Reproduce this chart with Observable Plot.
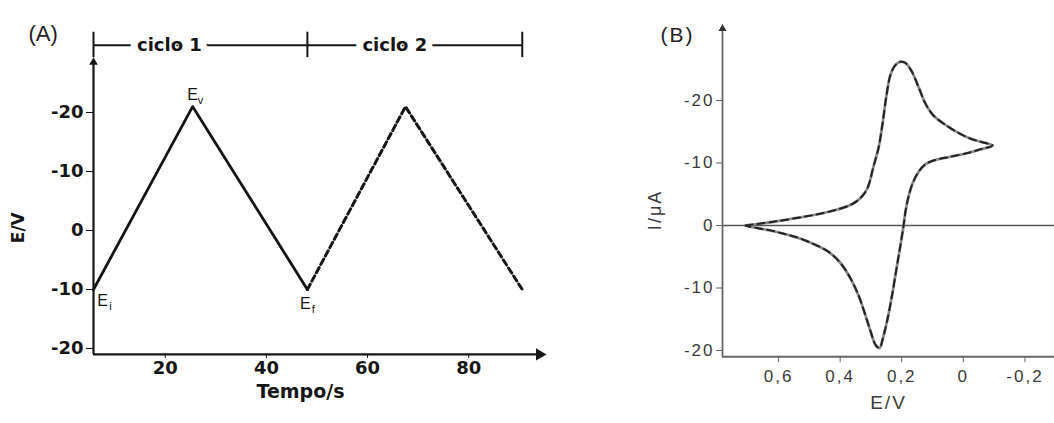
<!DOCTYPE html>
<html><head><meta charset="utf-8">
<script src="https://cdn.jsdelivr.net/npm/d3@7"></script>
<script src="https://cdn.jsdelivr.net/npm/@observablehq/plot@0.6"></script>
<style>
body{margin:0;background:#fff;}
#wrap{display:flex;width:1054px;height:423px;overflow:hidden;background:#fff;}
#wrap svg{display:block;flex-shrink:0;max-width:none;}
</style></head><body><div id="wrap"></div>
<script>
// ---------- Panel (A): triangular potential waveform ----------
const tempo = [5.8, 25.4, 48.1, 67.5, 90.6];          // s
const potencial = [-10, 21, -10, 21, -10];             // E (plotted value)
const cicloNomes = ["ciclo 1", "ciclo 2"];
const tempoTicks = [20, 40, 60, 80];
const eTicks = [20, 10, 0, -10, -20];
const eTickLabels = ["-20", "-10", "0", "-10", "-20"];
const pontosIdx = [0, 1, 2];
const subscritos = ["i", "v", "f"];

// ---------- Panel (B): cyclic voltammogram ----------
const cvE = [0.707,0.616,0.529,0.473,0.421,0.366,0.334,0.311,0.292,0.275,0.262,0.249,0.236,0.220,0.204,0.188,0.168,0.145,0.123,0.097,0.058,0.019,-0.023,-0.056,-0.095,
  -0.056,-0.014,0.042,0.090,0.123,0.145,0.165,0.178,0.188,0.194,0.204,0.217,0.233,0.249,0.262,0.272,0.285,0.302,0.321,0.341,0.366,0.399,0.438,0.480,0.529,0.577,0.626,0.691,0.707];
const cvI = [0,0.6,1.3,1.8,2.4,3.3,4.4,6.0,9.4,12.5,16.4,21.0,24.2,25.7,26.2,26.0,24.7,22.1,19.5,17.6,16.1,14.9,13.9,13.4,12.8,
  12.2,11.6,11.0,10.5,9.8,8.6,6.7,4.6,2.2,0,-3.1,-6.9,-11.6,-15.6,-18.2,-19.6,-19.1,-16.8,-13.9,-11.1,-8.5,-6.0,-4.2,-3.1,-2.1,-1.4,-0.8,-0.2,0];
const vTicks = [0.6, 0.4, 0.2, 0, -0.2];
const vTickLabels = ["0,6", "0,4", "0,2", "0", "-0,2"];
const iTicks = [20, 10, 0, -10, -20];
const iTickLabels = ["-20", "-10", "0", "-10", "-20"];

const wrap = document.getElementById("wrap");

// ----- Panel A -----
const ink = "#151515";
const tMin = tempo[0], tMax = 94.8, eMin = -21, eMax = 35, eArrow = 28.5;
const bracketE = 31.4, bracketE1 = 29.3, bracketE2 = 33.6;
const seg1 = [0,1,2].map(i => ({t: tempo[i], e: potencial[i]}));
const seg2 = [2,3,4].map(i => ({t: tempo[i], e: potencial[i]}));
const bounds = [tempo[0], tempo[2], tempo[4]];
const ciclos = [0,1].map(k => ({a: bounds[k], b: bounds[k+1], m: (bounds[k]+bounds[k+1])/2, nome: cicloNomes[k]}));

function labelE(k, dx, dy) {
  const i = pontosIdx[k];
  const d = [{t: tempo[i], e: potencial[i], s: subscritos[k]}];
  const common = {x: "t", y: "e", fontWeight: "normal", fontFamily: "'Liberation Sans', Arial, sans-serif", fill: ink};
  return [
    Plot.text(d, {...common, text: () => "E", dx, dy, fontSize: 16}),
    Plot.text(d, {...common, text: "s", dx: dx + 8, dy: dy + 6, fontSize: 11})
  ];
}

const A = Plot.plot({
  width: 560, height: 423,
  marginLeft: 93, marginRight: 17, marginTop: 23.5, marginBottom: 69.1,
  style: "font-family: 'DejaVu Sans', sans-serif; font-size: 18px; font-weight: bold; color: #151515; background: white; overflow: visible;",
  x: {domain: [tMin, tMax]},
  y: {domain: [eMin, eMax]},
  marks: [
    Plot.ruleX([tMin], {y1: eMin, y2: eArrow, stroke: ink, strokeWidth: 2.2}),
    Plot.ruleY([eMin], {x1: tMin, x2: tMax, stroke: ink, strokeWidth: 2.2}),
    Plot.dot([{t: tMin, e: eArrow}], {x: "t", y: "e", symbol: "triangle", r: 3.2, fill: ink, stroke: null}),
    Plot.dot([{t: tMax, e: eMin}], {x: "t", y: "e", symbol: "triangle", r: 4.5, rotate: 90, dx: -4, fill: ink, stroke: null}),
    Plot.axisX({ticks: tempoTicks, tickSize: 4, tickPadding: 3, label: null, tickFormat: d => String(d)}),
    Plot.axisY({ticks: eTicks, tickSize: 7, tickPadding: 3, label: null, tickFormat: d => eTickLabels[eTicks.indexOf(d)]}),
    Plot.line(seg1, {x: "t", y: "e", stroke: ink, strokeWidth: 2.8}),
    Plot.line(seg2, {x: "t", y: "e", stroke: ink, strokeWidth: 3, strokeDasharray: "6,3.5"}),
    // cycle bracket
    Plot.ruleY(ciclos, {y: () => bracketE, x1: "a", x2: "b", stroke: ink, strokeWidth: 2}),
    Plot.ruleX(bounds, {x: d => d, y1: bracketE1, y2: bracketE2, stroke: ink, strokeWidth: 2}),
    Plot.text([ciclos[0]], {x: "m", y: () => bracketE, text: "nome", dx: -31, fill: ink, stroke: "white", strokeWidth: 14, paintOrder: "stroke", fontSize: 18}),
    Plot.text([ciclos[1]], {x: "m", y: () => bracketE, text: "nome", dx: -20, fill: ink, stroke: "white", strokeWidth: 14, paintOrder: "stroke", fontSize: 18}),
    ...labelE(0, 9, 11),
    ...labelE(1, 0, -12),
    ...labelE(2, -2, 14),
    Plot.text(["Tempo/s"], {text: d => d, frameAnchor: "bottom", dx: -18, dy: 44, fontSize: 19, fill: ink}),
    Plot.text(["E/V"], {text: d => d, frameAnchor: "left", rotate: -90, dx: -75, dy: 54, fontSize: 17, fill: ink}),
    Plot.text(["(A)"], {text: d => d, frameAnchor: "top-left", textAnchor: "start", dx: -65, dy: 1, fontSize: 22, fontWeight: "normal", fontFamily: "'Liberation Sans', Arial, sans-serif", fill: "#222"})
  ]
});
wrap.appendChild(A);

// ----- Panel B -----
const grey = "#3a3a3a";
const vMin = -0.296, vMax = 0.782, iMin = -21, iMax = 32, iArrow = 31.5;
const cv = cvE.map((e, k) => ({e, i: cvI[k]}));

const B = Plot.plot({
  width: 494, height: 423,
  marginLeft: 162, marginRight: 0, marginTop: 25, marginBottom: 66.75,
  style: "font-family: 'Liberation Sans', Arial, sans-serif; font-size: 17px; letter-spacing: 2px; color: #3a3a3a; background: white; overflow: visible;",
  x: {domain: [vMax, vMin]},
  y: {domain: [iMin, iMax]},
  marks: [
    Plot.ruleY([0], {stroke: "#555", strokeWidth: 1.4}),
    Plot.ruleX([vMax], {y1: iMin, y2: iArrow, stroke: "#666", strokeWidth: 1.8}),
    Plot.ruleY([iMin], {stroke: "#666", strokeWidth: 2}),
    Plot.dot([{e: vMax, i: iArrow}], {x: "e", y: "i", symbol: "triangle", r: 3, fill: "#333", stroke: null}),
    Plot.axisX({ticks: vTicks, tickSize: 6, tickPadding: 7, label: null, stroke: "#666", tickFormat: d => vTickLabels[vTicks.indexOf(d)]}),
    Plot.axisY({ticks: iTicks, tickSize: 6, tickPadding: 2, label: null, stroke: "#666", tickFormat: d => iTickLabels[iTicks.indexOf(d)]}),
    Plot.line(cv, {x: "e", y: "i", stroke: "#8a8a8a", strokeWidth: 2.8, curve: "catmull-rom"}),
    Plot.line(cv, {x: "e", y: "i", stroke: "#222", strokeWidth: 2, strokeDasharray: "7,5", curve: "catmull-rom"}),
    Plot.text(["E/V"], {text: d => d, frameAnchor: "bottom", dy: 52, fontSize: 19, fill: grey}),
    Plot.text(["I/\u03BCA"], {text: d => d, frameAnchor: "left", rotate: -90, dx: -67, dy: 39, fontSize: 18, fill: grey}),
    Plot.text(["(B)"], {text: d => d, frameAnchor: "top-left", textAnchor: "start", dx: -62, dy: 2, fontSize: 21, fill: "#222"})
  ]
});
wrap.appendChild(B);
</script>
</body></html>
